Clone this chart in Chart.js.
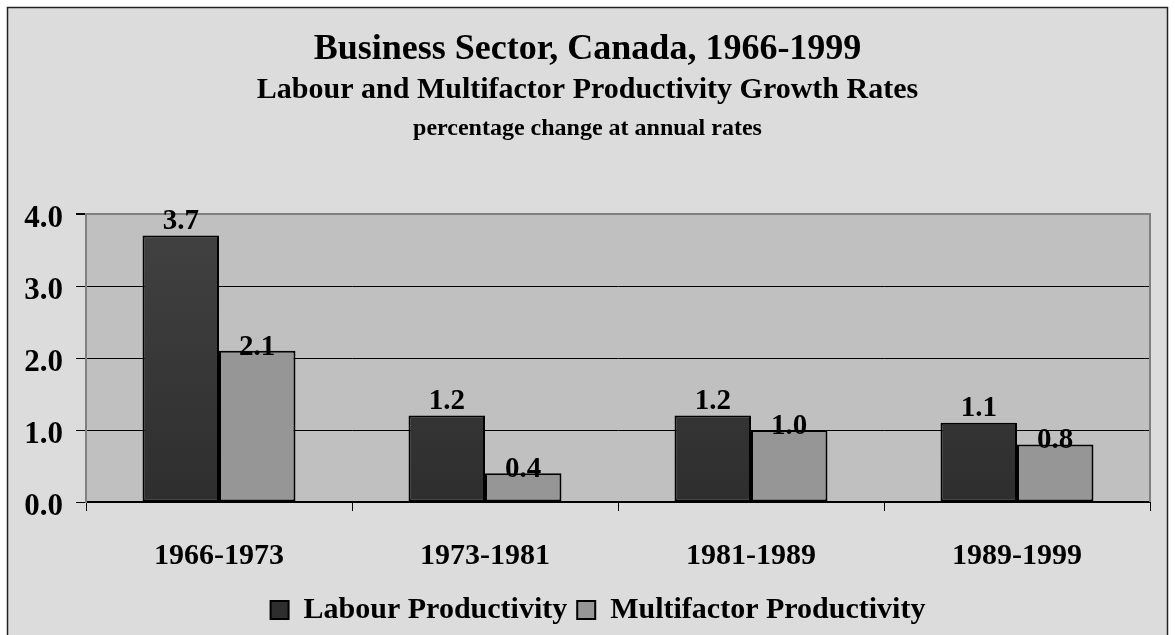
<!DOCTYPE html>
<html><head><meta charset="utf-8">
<script src="https://cdn.jsdelivr.net/npm/chart.js@4/dist/chart.umd.min.js"></script>
<style>html,body{margin:0;padding:0;background:#fff;overflow:hidden}</style>
</head><body>
<canvas id="c" width="1175" height="635" style="display:block"></canvas>
<script>
const categories = ['1966-1973', '1973-1981', '1981-1989', '1989-1999'];
const labourProductivity = [3.7, 1.2, 1.2, 1.1];
const multifactorProductivity = [2.1, 0.4, 1.0, 0.8];
const seriesNames = ['Labour Productivity', 'Multifactor Productivity'];
const yTicks = [0, 1, 2, 3, 4];
const titleLines = ['Business Sector, Canada, 1966-1999', 'Labour and Multifactor Productivity Growth Rates', 'percentage change at annual rates'];

const SERIF = '"Liberation Serif", "Times New Roman", Times, serif';

function darkGradient(ctx) {
  const ca = ctx.chart.chartArea;
  if (!ca) return '#383838';
  const g = ctx.chart.ctx.createLinearGradient(0, ca.top, 0, ca.bottom);
  g.addColorStop(0, '#424242');
  g.addColorStop(1, '#2e2e2e');
  return g;
}

const framePlugin = {
  id: 'frame',
  afterLayout(chart) {
    const lg = chart.legend;
    if (lg) { lg.left += 23; lg.right += 23; }
  },
  beforeDraw(chart) {
    const c = chart.ctx, W = chart.width, H = chart.height, ca = chart.chartArea;
    c.save();
    c.fillStyle = '#ffffff';
    c.fillRect(0, 0, W, H);
    c.fillStyle = '#dcdcdc';
    c.fillRect(7, 7, 1161, H);
    c.strokeStyle = '#222';
    c.lineWidth = 1.5;
    c.strokeRect(7.5, 7.5, 1160, H + 20);
    c.fillStyle = '#c0c0c0';
    c.fillRect(ca.left, ca.top, ca.right - ca.left, ca.bottom - ca.top);
    c.restore();
  },
  beforeDatasetsDraw(chart) {
    const c = chart.ctx, ca = chart.chartArea;
    c.save();
    c.strokeStyle = '#808080';
    c.lineWidth = 2;
    c.beginPath();
    c.moveTo(ca.right, ca.top - 1);
    c.lineTo(ca.right, ca.bottom);
    c.stroke();
    c.restore();
  },
  afterDatasetsDraw(chart) {
    const c = chart.ctx;
    c.save();
    c.font = 'bold 29px ' + SERIF;
    c.fillStyle = '#000';
    c.textAlign = 'center';
    c.textBaseline = 'alphabetic';
    chart.data.datasets.forEach((ds, di) => {
      const meta = chart.getDatasetMeta(di);
      const off = di === 0 ? -7 : 4;
      meta.data.forEach((el, i) => {
        c.fillText(ds.data[i].toFixed(1), el.x, el.y + off);
      });
    });
    c.restore();
  },
  afterDraw(chart) {
    const c = chart.ctx, cx = chart.width / 2;
    c.save();
    c.fillStyle = '#000';
    c.textAlign = 'center';
    c.textBaseline = 'alphabetic';
    c.font = 'bold 36px ' + SERIF;
    c.fillText(titleLines[0], cx, 59);
    c.font = 'bold 30px ' + SERIF;
    c.fillText(titleLines[1], cx, 98);
    c.font = 'bold 24px ' + SERIF;
    c.fillText(titleLines[2], cx, 135);
    c.restore();
  }
};

new Chart(document.getElementById('c'), {
  type: 'bar',
  data: {
    labels: categories,
    datasets: [
      { label: seriesNames[0], data: labourProductivity, backgroundColor: darkGradient, borderColor: '#000', borderWidth: 2, borderSkipped: false },
      { label: seriesNames[1], data: multifactorProductivity, backgroundColor: '#969696', borderColor: '#000', borderWidth: 2, borderSkipped: false }
    ]
  },
  options: {
    responsive: false,
    animation: false,
    devicePixelRatio: 1,
    categoryPercentage: 0.575,
    barPercentage: 1.0,
    layout: { padding: { top: 214, right: 25, bottom: 0, left: 0 } },
    plugins: {
      title: { display: false },
      tooltip: { enabled: false },
      legend: {
        position: 'bottom',
        labels: { font: { family: SERIF, size: 30, weight: 'bold' }, color: '#000', boxWidth: 18, boxHeight: 18, padding: 10 }
      }
    },
    scales: {
      x: {
        offset: true,
        grid: { offset: true, drawOnChartArea: false, drawTicks: true, tickLength: 9, color: '#000', tickColor: '#000', lineWidth: 1 },
        border: { display: true, color: '#000', width: 2 },
        ticks: { font: { family: SERIF, size: 30, weight: 'bold' }, color: '#000', padding: 27, maxRotation: 0 },
        afterFit(s) { s.height = 83; }
      },
      y: {
        min: 0, max: 4,
        afterBuildTicks(s) { s.ticks = yTicks.map(v => ({ value: v })); },
        ticks: { font: { family: SERIF, size: 31, weight: 'bold' }, color: '#000', padding: 13, labelOffset: 5, callback: v => Number(v).toFixed(1) },
        grid: { color: c => (c.tick && c.tick.value === 4) ? '#808080' : '#000', lineWidth: c => (c.tick && c.tick.value === 4) ? 2 : 1, tickLength: 10, tickColor: '#000' },
        border: { display: true, color: '#808080', width: 2 },
        afterFit(s) { s.width = 86; }
      }
    }
  },
  plugins: [framePlugin]
});
</script>
</body></html>
